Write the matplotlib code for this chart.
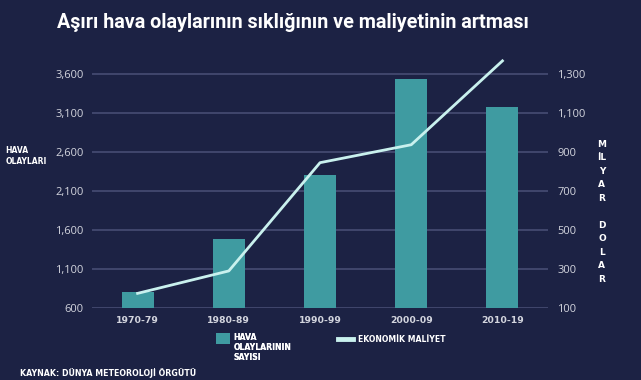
import matplotlib
matplotlib.use("Agg")
from matplotlib import pyplot as plt
from matplotlib import patches as mpatches
from matplotlib.legend_handler import HandlerPatch

# values
decades = ["1970-79", "1980-89", "1990-99", "2000-09", "2010-19"]
events = [810, 1480, 2300, 3540, 3180]      # number of weather events (left axis)
cost = [175, 290, 845, 937, 1367]           # economic cost, billion dollars (right axis)
left_ticks = [600, 1100, 1600, 2100, 2600, 3100, 3600]
right_ticks = [100, 300, 500, 700, 900, 1100, 1300]

bg = "#1c2244"
bar_col = "#3f9ba1"
line_col = "#c9f1ee"
grid_col = "#474d74"
tick_col = "#d3d5de"
bold_font = "DejaVu Sans"
text_font = "Open Sans"

fig = plt.figure(figsize=(6.41, 3.80), dpi=100, facecolor=bg)
ax = fig.add_axes([0.1435, 0.1895, 0.7115, 0.657])
ax.set_facecolor(bg)

x = range(len(decades))
bars = ax.bar(x, events, width=0.35, color=bar_col, zorder=2,
              label="HAVA\nOLAYLARININ\nSAYISI")
ax.set_xlim(-0.5, len(decades) - 0.5)
ax.set_ylim(600, 3800)
ax.set_yticks(left_ticks)
ax.set_yticklabels([f"{v:,}" for v in left_ticks], fontfamily=text_font,
                   fontsize=8, color=tick_col)
ax.set_xticks(list(x))
ax.set_xticklabels(decades, fontfamily=bold_font, fontweight="bold",
                   fontsize=6.7, color=tick_col)
ax.grid(axis="y", color=grid_col, linewidth=1.2, zorder=0)
ax.tick_params(axis="both", length=0, pad=6)
for s in ax.spines.values():
    s.set_visible(False)

ax2 = ax.twinx()
ln, = ax2.plot(x, cost, color=line_col, linewidth=2, zorder=3,
               clip_on=False, label="EKONOMİK MALİYET")
ax2.set_ylim(100, 1380)
ax2.set_yticks(right_ticks)
ax2.set_yticklabels([f"{v:,}" for v in right_ticks], fontfamily=text_font,
                    fontsize=8, color=tick_col)
ax2.tick_params(axis="y", length=0, pad=6.5)
for s in ax2.spines.values():
    s.set_visible(False)

fig.text(0.089, 0.942, "Aşırı hava olaylarının sıklığının ve maliyetinin artması",
         fontfamily="Roboto", fontweight="bold", fontsize=14.2,
         color="white", va="center", ha="left")

fig.text(0.008, 0.589, "HAVA\nOLAYLARI", fontfamily=bold_font,
         fontweight="bold", fontsize=5.5, color="white", va="center",
         ha="left", linespacing=1.3)

# vertical label, one letter per row as in the original
right_rows = ["M", "İL", "Y", "A", "R", "", "D", "O", "L", "A", "R"]
fig.text(0.939, 0.443, "\n".join(right_rows),
         fontfamily=bold_font, fontweight="bold", fontsize=6.5, color="white",
         va="center", ha="center", linespacing=1.64)


# legend square sits at the top of the three-line label
def top_square(legend, orig_handle, xdescent, ydescent, width, height, fontsize):
    return mpatches.Rectangle((-xdescent, -ydescent + 7), width, height)


leg1 = fig.legend(handles=[bars[0]], labels=[bars.get_label()],
                  loc="upper left", bbox_to_anchor=(0.337, 0.125),
                  frameon=False, handlelength=1.75, handleheight=1.75,
                  handletextpad=0.5, borderpad=0, borderaxespad=0,
                  handler_map={mpatches.Rectangle: HandlerPatch(patch_func=top_square)},
                  prop={"family": bold_font, "weight": "bold", "size": 5.6})
for t in leg1.get_texts():
    t.set_color("white")
    t.set_linespacing(1.2)
fig.add_artist(leg1)

leg2 = fig.legend(handles=[ln], loc="upper left", bbox_to_anchor=(0.528, 0.118),
                  frameon=False, handlelength=1.9, handletextpad=0.6,
                  borderpad=0, borderaxespad=0,
                  prop={"family": bold_font, "weight": "bold", "size": 5.6})
for t in leg2.get_texts():
    t.set_color("white")
for h in leg2.get_lines():
    h.set_linewidth(3.5)

fig.text(0.031, 0.018, "KAYNAK: DÜNYA METEOROLOJİ ÖRGÜTÜ", fontfamily=bold_font,
         fontweight="bold", fontsize=5.7, color="white", va="center", ha="left")

plt.savefig("out.png", dpi=100, facecolor=bg)
